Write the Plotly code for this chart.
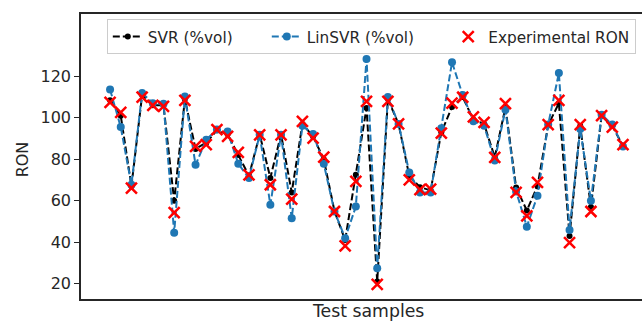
import plotly.graph_objects as go

samples = list(range(49))

experimental_ron = [107.4, 102.6, 66.1, 110.0, 106.0, 105.5, 54.3, 108.4, 86.2, 87.0,
                    94.3, 91.0, 83.3, 72.5, 91.8, 67.7, 91.8, 60.8, 98.3, 90.2,
                    81.0, 54.8, 38.2, 69.3, 107.9, 19.7, 107.9, 97.1, 70.1, 65.3,
                    65.6, 92.6, 107.1, 109.9, 100.4, 97.8, 80.9, 106.8, 64.0, 52.7,
                    68.8, 96.7, 108.4, 39.8, 96.7, 54.8, 101.0, 95.5, 87.0]

svr_vol = [108.5, 101.0, 67.0, 111.0, 106.0, 106.0, 60.0, 109.0, 85.0, 88.0,
           94.0, 92.0, 82.0, 72.0, 92.0, 71.0, 92.0, 64.0, 97.0, 91.0,
           80.0, 55.0, 41.0, 72.5, 104.7, 21.0, 109.0, 97.0, 72.0, 66.5,
           65.0, 93.0, 105.2, 110.0, 99.0, 97.0, 81.0, 105.0, 66.4, 55.3,
           67.0, 96.5, 107.0, 43.0, 96.0, 57.0, 101.0, 96.0, 86.5]

linsvr_vol = [113.6, 95.5, 67.7, 112.0, 107.0, 106.8, 44.6, 110.3, 77.3, 89.4,
              94.3, 93.4, 77.8, 70.9, 91.8, 58.0, 91.8, 51.5, 96.2, 92.2,
              77.8, 54.8, 41.9, 57.2, 128.4, 27.4, 110.0, 97.0, 73.6, 64.0,
              64.0, 95.0, 126.8, 111.0, 98.3, 96.2, 79.4, 103.9, 64.5, 47.5,
              62.4, 96.7, 121.6, 45.9, 94.6, 60.0, 101.5, 96.7, 86.2]

y_ticks = [20, 40, 60, 80, 100, 120]

FONT = "DejaVu Sans"
DARK = "#262626"
NB = "\u00a0"

fig = go.Figure()
fig.add_trace(go.Scatter(
    x=samples, y=svr_vol, mode="lines+markers", name="SVR (%vol)" + NB * 6,
    line=dict(color="black", width=2, dash="7px,3px"),
    marker=dict(color="black", size=6, symbol="circle"),
    cliponaxis=False,
))
fig.add_trace(go.Scatter(
    x=samples, y=linsvr_vol, mode="lines+markers", name="LinSVR (%vol)" + NB * 6,
    line=dict(color="#1f77b4", width=2, dash="7px,3px"),
    marker=dict(color="#1f77b4", size=8, symbol="circle"),
    cliponaxis=False,
))
fig.add_trace(go.Scatter(
    x=samples, y=experimental_ron, mode="markers", name="Experimental RON",
    marker=dict(symbol="x-thin", size=11, color="red",
                line=dict(color="red", width=2.5)),
    cliponaxis=False,
))

fig.update_layout(
    width=642, height=322,
    margin=dict(l=81, r=0, t=14, b=23),
    paper_bgcolor="white", plot_bgcolor="white",
    font=dict(family=FONT, size=16, color=DARK),
    showlegend=True,
    legend=dict(
        orientation="h", x=0.046, y=0.982, xanchor="left", yanchor="top",
        bgcolor="white", bordercolor="#cccccc", borderwidth=1,
        font=dict(family=FONT, size=15.3, color=DARK),
        traceorder="normal",
    ),
    xaxis=dict(
        range=[-2.72, 49.78], showgrid=False, zeroline=False,
        showticklabels=False, ticks="",
        showline=True, mirror=True, linecolor=DARK, linewidth=1.6,
    ),
    yaxis=dict(
        range=[12.6, 150.05], showgrid=False, zeroline=False,
        tickvals=y_ticks, ticktext=[str(v) for v in y_ticks],
        ticks="outside", ticklen=5, tickwidth=1.4, tickcolor=DARK,
        tickfont=dict(family=FONT, size=16, color=DARK),
        showline=True, mirror=False, linecolor=DARK, linewidth=1.6,
    ),
    annotations=[
        dict(text="Test samples", xref="paper", yref="paper",
             x=0.511, y=0, yshift=-12, xanchor="center", yanchor="middle",
             showarrow=False, font=dict(family=FONT, size=17.3, color=DARK)),
        dict(text="RON", xref="paper", yref="paper", textangle=-90,
             x=0, xshift=-59, y=0.49, xanchor="center", yanchor="middle",
             showarrow=False, font=dict(family=FONT, size=16, color=DARK)),
    ],
)

fig.write_html("out.html")
